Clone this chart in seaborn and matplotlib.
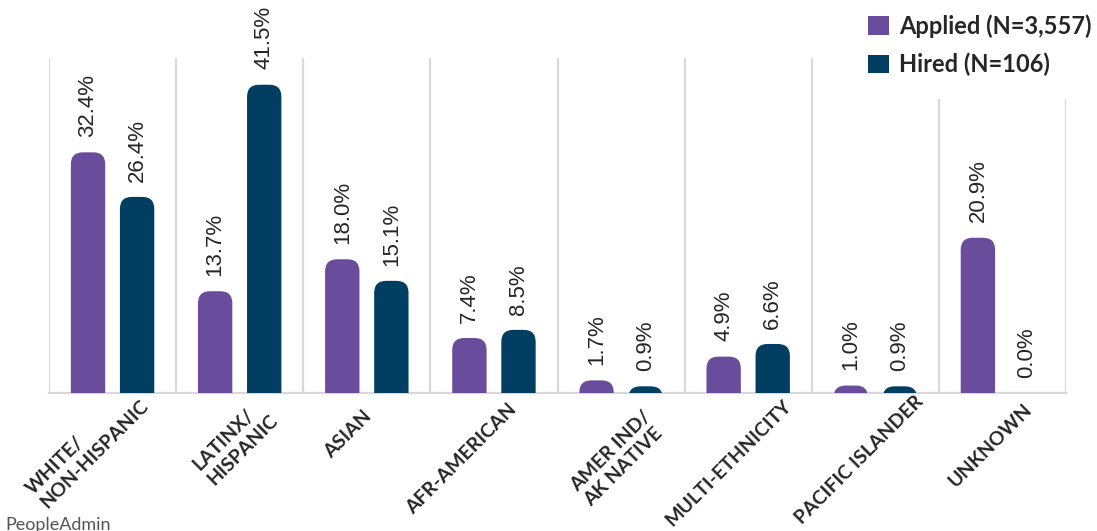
import numpy as np
import pandas as pd
import matplotlib
matplotlib.use("Agg")
import matplotlib.pyplot as plt
import matplotlib.transforms as mtransforms
from matplotlib.patches import FancyBboxPatch, Patch
import seaborn as sns

# Data
categories = ["WHITE/\nNON-HISPANIC", "LATINX/\nHISPANIC", "ASIAN", "AFR-AMERICAN",
              "AMER IND/\nAK NATIVE", "MULTI-ETHNICITY", "PACIFIC ISLANDER", "UNKNOWN"]
applied = [32.4, 13.7, 18.0, 7.4, 1.7, 4.9, 1.0, 20.9]
hired = [26.4, 41.5, 15.1, 8.5, 0.9, 6.6, 0.9, 0.0]
series_names = ["Applied (N=3,557)", "Hired (N=106)"]
colors = ["#6A4C9C", "#003E62"]

# nudges (px) for the rotated tick labels
label_nudge = [(26, 8), (28, -6), (2, -9), (20, -3), (34, -17), (40, 1), (45, 5), (27, -3)]

df = pd.DataFrame({
    "group": categories * 2,
    "series": [series_names[0]] * len(categories) + [series_names[1]] * len(categories),
    "pct": applied + hired,
})

sns.set_theme(style="white")
plt.rcParams["font.family"] = ["Liberation Sans", "DejaVu Sans"]

fig = plt.figure(figsize=(10.97, 5.31), dpi=100)
ax = fig.add_axes([49 / 1097, 1 - 393 / 531, 1017 / 1097, 335 / 531])

sns.barplot(data=df, x="group", y="pct", hue="series", palette=colors, saturation=1,
            order=categories, hue_order=series_names, width=0.772, gap=0.3,
            legend=False, ax=ax, zorder=3)

ax.set_xlim(-0.5, len(categories) - 0.5)
ax.set_ylim(0, 45.1)

# rounded-top bars
px_x = 1017 / len(categories)
px_y = 335 / 45.1
aspect = px_x / px_y
rad = 12 / px_x
bars = list(ax.patches)
for p in bars:
    x, w, h = p.get_x(), p.get_width(), p.get_height()
    fc = p.get_facecolor()
    p.remove()
    if h <= 0:
        continue
    ax.add_patch(FancyBboxPatch((x, -3), w, h + 3,
                                boxstyle=f"round,pad=0,rounding_size={rad}",
                                mutation_aspect=aspect, fc=fc, ec="none",
                                zorder=3, clip_on=True))
    ax.annotate(f"{h:.1f}%", (x + w / 2, h), xytext=(0, 11), textcoords="offset points",
                rotation=90, ha="center", va="bottom", fontsize=16, color="#262626")

# zero-value label
for i, v in enumerate(hired):
    if v == 0:
        ax.annotate("0.0%", (i + 0.193, 0), xytext=(0, 11), textcoords="offset points",
                    rotation=90, ha="center", va="bottom", fontsize=16, color="#262626")

# separators between categories
for b in np.arange(-0.5, len(categories), 1.0):
    ax.axvline(b, color="#d9d9d9", lw=1.6, zorder=1)

for s in ["top", "right", "left"]:
    ax.spines[s].set_visible(False)
ax.spines["bottom"].set_color("#d9d9d9")
ax.spines["bottom"].set_linewidth(1.6)
ax.set_yticks([])
ax.set_xlabel("")
ax.set_ylabel("")
ax.tick_params(axis="x", length=0, pad=8)
ax.set_xticks(range(len(categories)))
ax.set_xticklabels(categories, rotation=45, ha="right", va="center",
                   rotation_mode="anchor", multialignment="left",
                   fontsize=14, color="#262626",
                   fontfamily="Lato", fontweight="bold")
for i, lbl in enumerate(ax.get_xticklabels()):
    dx, dy = label_nudge[i]
    off = mtransforms.ScaledTranslation(dx / 100, dy / 100, fig.dpi_scale_trans)
    lbl.set_transform(lbl.get_transform() + off)

handles = [Patch(facecolor=c, edgecolor="none") for c in colors]
leg = fig.legend(handles, series_names, loc="upper left",
                 bbox_to_anchor=(846 / 1097, 1 + 8 / 531), bbox_transform=fig.transFigure,
                 frameon=True, facecolor="white", edgecolor="none", framealpha=1,
                 handlelength=0.85, handleheight=0.85,
                 handletextpad=0.45, labelspacing=0.62, borderpad=0.95, borderaxespad=0,
                 prop={"family": "Lato", "weight": "bold", "size": 17})
leg.set_zorder(10)
for t in leg.get_texts():
    t.set_color("#262626")

fig.text(5 / 1097, 1 / 531, "PeopleAdmin", fontsize=13, color="#555555",
         ha="left", va="baseline", fontfamily="Lato")

fig.savefig("out.png", dpi=100)
